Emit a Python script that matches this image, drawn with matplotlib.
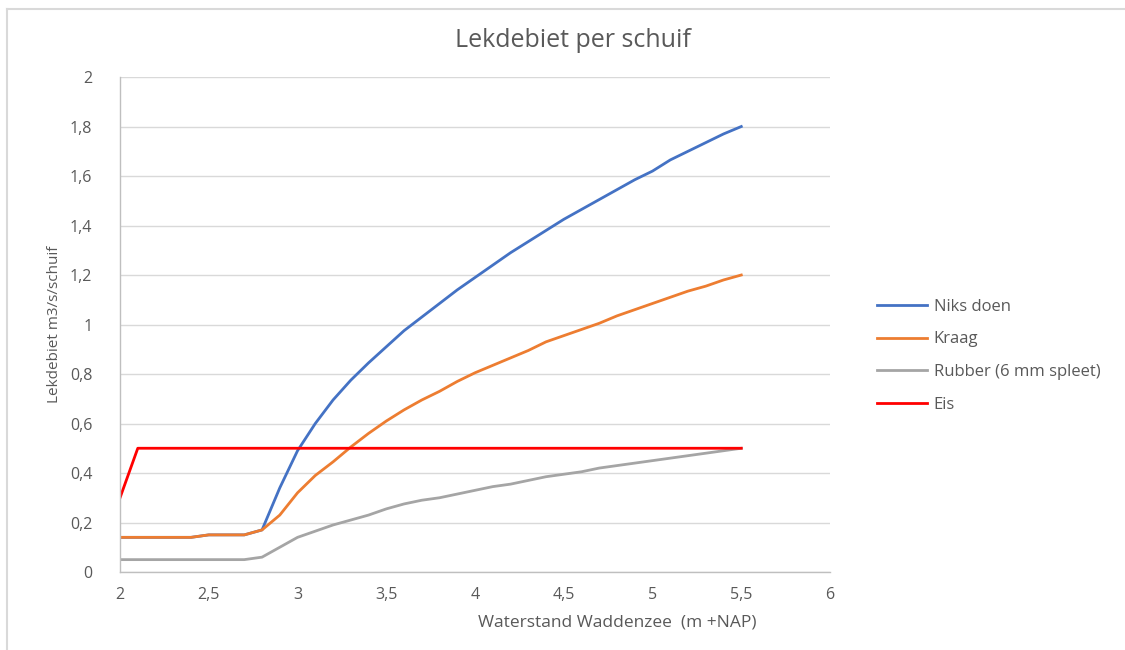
from matplotlib import pyplot as plt
import numpy as np

plt.rcParams['font.family'] = ['Open Sans', 'DejaVu Sans']

waterstand = [2.0, 2.1, 2.2, 2.3, 2.4, 2.5, 2.6, 2.7, 2.8, 2.9,
              3.0, 3.1, 3.2, 3.3, 3.4, 3.5, 3.6, 3.7, 3.8, 3.9,
              4.0, 4.1, 4.2, 4.3, 4.4, 4.5, 4.6, 4.7, 4.8, 4.9,
              5.0, 5.1, 5.2, 5.3, 5.4, 5.5]

niks_doen = [0.14, 0.14, 0.14, 0.14, 0.14, 0.15, 0.15, 0.15, 0.17, 0.34,
             0.49, 0.60, 0.695, 0.775, 0.845, 0.91, 0.975, 1.03, 1.085, 1.14,
             1.19, 1.24, 1.29, 1.335, 1.38, 1.425, 1.465, 1.505, 1.545, 1.585,
             1.62, 1.665, 1.70, 1.735, 1.77, 1.80]

kraag = [0.14, 0.14, 0.14, 0.14, 0.14, 0.15, 0.15, 0.15, 0.17, 0.23,
         0.32, 0.39, 0.445, 0.505, 0.56, 0.61, 0.655, 0.695, 0.73, 0.77,
         0.805, 0.835, 0.865, 0.895, 0.93, 0.955, 0.98, 1.005, 1.035, 1.06,
         1.085, 1.11, 1.135, 1.155, 1.18, 1.20]

rubber = [0.05, 0.05, 0.05, 0.05, 0.05, 0.05, 0.05, 0.05, 0.06, 0.10,
          0.14, 0.165, 0.19, 0.21, 0.23, 0.255, 0.275, 0.29, 0.30, 0.315,
          0.33, 0.345, 0.355, 0.37, 0.385, 0.395, 0.405, 0.42, 0.43, 0.44,
          0.45, 0.46, 0.47, 0.48, 0.49, 0.50]

eis_x = [2.0, 2.1, 5.5]
eis = [0.3, 0.5, 0.5]

xticks = [2, 2.5, 3, 3.5, 4, 4.5, 5, 5.5, 6]
xticklabels = ['2', '2,5', '3', '3,5', '4', '4,5', '5', '5,5', '6']
yticks = [0, 0.2, 0.4, 0.6, 0.8, 1, 1.2, 1.4, 1.6, 1.8, 2]
yticklabels = ['0', '0,2', '0,4', '0,6', '0,8', '1', '1,2', '1,4', '1,6', '1,8', '2']

grey_text = '#595959'

fig = plt.figure(figsize=(11.25, 6.5), dpi=100)
ax = fig.add_axes([0.1067, 0.12, 0.6311, 0.7615])

ax.plot(waterstand, niks_doen, color='#4472C4', linewidth=2, label='Niks doen')
ax.plot(waterstand, kraag, color='#ED7D31', linewidth=2, label='Kraag')
ax.plot(waterstand, rubber, color='#A5A5A5', linewidth=2, label='Rubber (6 mm spleet)')
ax.plot(eis_x, eis, color='#FF0000', linewidth=2, label='Eis')

ax.set_xlim(2, 6)
ax.set_ylim(0, 2)
ax.set_xticks(xticks)
ax.set_xticklabels(xticklabels)
ax.set_yticks(yticks)
ax.set_yticklabels(yticklabels)
ax.tick_params(length=0, labelsize=11.5, colors=grey_text)
ax.tick_params(axis='x', pad=11)
ax.tick_params(axis='y', pad=20)
ax.grid(axis='y', color='#d9d9d9', linewidth=1)
ax.set_axisbelow(True)
for side in ['top', 'right']:
    ax.spines[side].set_visible(False)
for side in ['left', 'bottom']:
    ax.spines[side].set_color('#bfbfbf')
    ax.spines[side].set_linewidth(1)

ax.set_xlabel('Waterstand Waddenzee  (m +NAP)', fontsize=12.5, color=grey_text, labelpad=8)
ax.xaxis.set_label_coords(0.70, -0.085)
ax.set_ylabel('Lekdebiet m3/s/schuif', fontsize=11, color=grey_text, labelpad=6)
fig.text(0.509, 0.938, 'Lekdebiet per schuif', ha='center', va='center', fontsize=18, color=grey_text)

leg = ax.legend(loc='center left', bbox_to_anchor=(1.045, 0.437), frameon=False,
                fontsize=12, handlelength=3.0, handletextpad=0.4, labelspacing=1.0)
for t in leg.get_texts():
    t.set_color(grey_text)

# chart border like the Excel frame
fig.add_artist(plt.Line2D([7 / 1125, 7 / 1125], [0, 1 - 9 / 650], color='#d9d9d9', linewidth=1.5))
fig.add_artist(plt.Line2D([7 / 1125, 1], [1 - 9 / 650, 1 - 9 / 650], color='#d9d9d9', linewidth=1.5))

plt.savefig('out.png')
